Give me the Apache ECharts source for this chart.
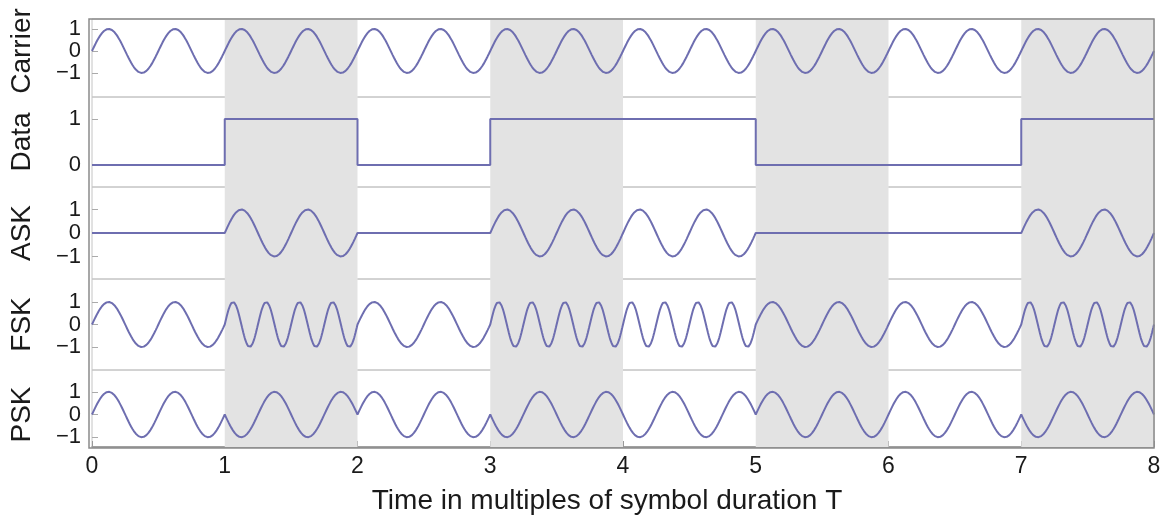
<!DOCTYPE html>
<html>
<head>
<meta charset="utf-8">
<script src="https://cdn.jsdelivr.net/npm/echarts@6/dist/echarts.min.js"></script>
<style>
  html, body { margin: 0; padding: 0; background: #fff; }
  #chart { width: 1165px; height: 516px; }
</style>
</head>
<body>
<div id="chart"></div>
<script>
// ---------------- data ----------------
const bits = [0, 1, 0, 1, 1, 0, 0, 1];            // data bit per symbol period T
const shadedIntervals = [[1, 2], [3, 4], [5, 6], [7, 8]];
const carrierCycles = 2;                          // carrier cycles per symbol T
const askAmplitude = [0, 1];                      // ASK amplitude for bit 0 / 1
const fskCycles = [2, 4];                         // FSK cycles per T for bit 0 / 1
const pskSign = [1, -1];                          // PSK phase 0 / 180 deg for bit 0 / 1
const panelNames = ['Carrier', 'Data', 'ASK', 'FSK', 'PSK'];
const xTickLabels = ['0', '1', '2', '3', '4', '5', '6', '7', '8'];
const yTickValues = [[-1, 0, 1], [0, 1], [-1, 0, 1], [-1, 0, 1], [-1, 0, 1]];
const xTitle = 'Time in multiples of symbol duration T';

// ---------------- layout ----------------
const plotLeft = 89, plotRight = 11;
const panelTop = [19, 97, 187, 279, 370];
const panelBottom = [97, 187, 279, 370, 448];
const yRange = [[-2.09, 1.45], [-0.478, 1.478], [-1.957, 1.957], [-2.02, 2.02], [-1.43, 1.96]];
const namePadding = [[0, 0, 0, 14], [0, 0, 0, 0], [0, 0, 0, 0], [0, 0, 0, 0], [0, 12, 0, 0]];
const FONT = "'Liberation Sans', Arial, Helvetica, sans-serif";
const lineColor = '#6e6eb0';
const shadeColor = '#e3e3e3';

// ---------------- build signals ----------------
const samplesPerSymbol = 200;
const TWO_PI = 2 * Math.PI;
const carrier = [], data = [], ask = [], fsk = [], psk = [];
bits.forEach((b, k) => {
  data.push([k, b], [k + 1, b]);
  for (let j = 0; j <= samplesPerSymbol; j++) {
    const t = k + j / samplesPerSymbol;
    const c = Math.sin(TWO_PI * carrierCycles * t);
    carrier.push([t, c]);
    ask.push([t, askAmplitude[b] * c]);
    fsk.push([t, Math.sin(TWO_PI * fskCycles[b] * t)]);
    psk.push([t, pskSign[b] * c]);
  }
});
const seriesData = [carrier, data, ask, fsk, psk];

// ---------------- options ----------------
const W = 1165;
const grids = [], xAxes = [], yAxes = [], series = [];
const last = panelNames.length - 1;
const fmt = v => (v < 0 ? '\u2212' + Math.abs(v) : String(v));

panelNames.forEach((name, i) => {
  grids.push({
    left: plotLeft, right: plotRight,
    top: panelTop[i], height: panelBottom[i] - panelTop[i],
    show: true, borderColor: '#c4c4c4', borderWidth: 1, backgroundColor: 'transparent'
  });
  const isBottom = i === last;
  xAxes.push({
    gridIndex: i, type: 'value', min: 0, max: 8, interval: 1,
    axisLine: { show: isBottom, onZero: false, lineStyle: { color: '#8a8a8a', width: 1.5 } },
    axisTick: { show: isBottom, inside: true, length: 6, lineStyle: { color: '#999' } },
    axisLabel: {
      show: isBottom, fontSize: 23, color: '#1a1a1a', fontFamily: FONT, margin: 8,
      hideOverlap: false,
      formatter: v => xTickLabels[Math.round(v)]
    },
    splitLine: { show: false },
    name: isBottom ? xTitle : '',
    nameLocation: 'middle', nameGap: 40,
    nameTextStyle: { fontSize: 28, color: '#1a1a1a', fontFamily: FONT, padding: [0, 32, 0, 0] }
  });
  yAxes.push({
    gridIndex: i, type: 'value', min: yRange[i][0], max: yRange[i][1],
    axisLine: { show: false, onZero: false },
    axisTick: { show: true, inside: true, length: 6, lineStyle: { color: '#aaa' }, customValues: yTickValues[i] },
    axisLabel: {
      customValues: yTickValues[i], fontSize: 22, color: '#1a1a1a', fontFamily: FONT, margin: 11,
      hideOverlap: false, lineHeight: 20,
      formatter: fmt
    },
    splitLine: { show: false },
    name: name, nameLocation: 'middle', nameGap: 56, nameRotate: 90,
    nameTextStyle: { fontSize: 28, color: '#1a1a1a', fontFamily: FONT, padding: namePadding[i] }
  });
  series.push({
    type: 'line', xAxisIndex: i, yAxisIndex: i,
    data: seriesData[i], showSymbol: false, symbol: 'none',
    lineStyle: { color: lineColor, width: 2 },
    animation: false, silent: true, clip: true,
    markArea: {
      silent: true,
      itemStyle: { color: shadeColor },
      data: shadedIntervals.map(([a, b]) => [{ xAxis: a }, { xAxis: b }])
    }
  });
});

const chart = echarts.init(document.getElementById('chart'), null, { renderer: 'canvas' });
chart.setOption({
  animation: false,
  backgroundColor: '#fff',
  textStyle: { fontFamily: FONT },
  grid: grids, xAxis: xAxes, yAxis: yAxes, series: series,
  graphic: [{
    type: 'rect', z: 100, silent: true,
    shape: { x: plotLeft, y: panelTop[0], width: W - plotLeft - plotRight, height: panelBottom[last] - panelTop[0] },
    style: { fill: 'none', stroke: '#8a8a8a', lineWidth: 1.5 }
  }]
});
</script>
</body>
</html>
